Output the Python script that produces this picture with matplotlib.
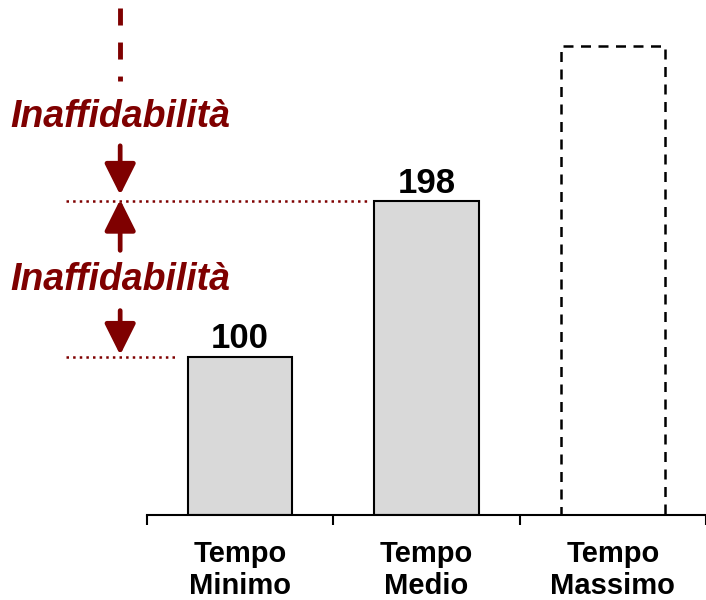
import matplotlib
matplotlib.use("Agg")
import matplotlib.pyplot as plt

CATEGORIE = ["Tempo\nMinimo", "Tempo\nMedio", "Tempo\nMassimo"]
VALORI = [100, 198]          # barre piene con etichetta
VALORE_MASSIMO = 296         # barra tratteggiata (senza etichetta)
ETICHETTA = "Inaffidabilità"

ROSSO = "#7f0000"
GRIGIO = "#d9d9d9"

plt.rcParams["font.family"] = ["Liberation Sans", "DejaVu Sans"]

fig = plt.figure(figsize=(7.06, 6.00), dpi=100)
ax = fig.add_axes([147 / 706, 85 / 600, 1 - 147 / 706, 515 / 600])
ax.set_xlim(-0.5, 2.47)
ax.set_ylim(0, 325)

larghezza = 0.56
x = list(range(len(CATEGORIE)))
ax.bar(x[:2], VALORI, width=larghezza, color=GRIGIO, edgecolor="black", linewidth=1.5)
ax.bar(x[2], VALORE_MASSIMO, width=larghezza, color="none", edgecolor="black",
       linewidth=1.8, linestyle=(0, (4, 3)))

for xi, v in zip(x, VALORI):
    ax.annotate(str(v), (xi, v), xytext=(0, 6), textcoords="offset points",
                ha="center", va="baseline", fontsize=25, fontweight="bold")

# assi
for lato in ["left", "right", "top"]:
    ax.spines[lato].set_visible(False)
ax.spines["bottom"].set_linewidth(1.5)
ax.set_yticks([])
ax.set_xticks(x)
ax.set_xticklabels(CATEGORIE, fontsize=21, fontweight="bold", linespacing=1.2)
ax.tick_params(axis="x", which="major", length=0, pad=18)
ax.set_xticks([-0.5, 0.5, 1.5, 2.5], minor=True)
ax.tick_params(axis="x", which="minor", length=7, width=1.5, direction="out")

# annotazioni di inaffidabilità
xa = -0.644
x_sin = -0.936
ax.plot([x_sin, 0.686], [VALORI[1], VALORI[1]], color=ROSSO, linestyle=":",
        linewidth=1.8, clip_on=False)
ax.plot([x_sin, -0.335], [VALORI[0], VALORI[0]], color=ROSSO, linestyle=":",
        linewidth=1.8, clip_on=False)
ax.plot([xa, xa], [320, 274], color=ROSSO, linestyle=(0, (3.5, 3.5)),
        linewidth=3.5, clip_on=False)

freccia = dict(arrowstyle="-|>,head_length=1.0,head_width=0.5", color=ROSSO,
               lw=3.4, mutation_scale=19, shrinkA=0, shrinkB=0)
ax.annotate("", xy=(xa, VALORI[1] + 4), xytext=(xa, 233), arrowprops=freccia,
            annotation_clip=False)
ax.annotate("", xy=(xa, VALORI[1] + 1), xytext=(xa, 167), arrowprops=freccia,
            annotation_clip=False)
ax.annotate("", xy=(xa, VALORI[0] + 1), xytext=(xa, 129), arrowprops=freccia,
            annotation_clip=False)

for yt in [251, 148.5]:
    ax.text(xa, yt, ETICHETTA, color=ROSSO, fontsize=27, fontweight="bold",
            fontstyle="italic", ha="center", va="center", clip_on=False)

fig.savefig("out.png", dpi=100)
